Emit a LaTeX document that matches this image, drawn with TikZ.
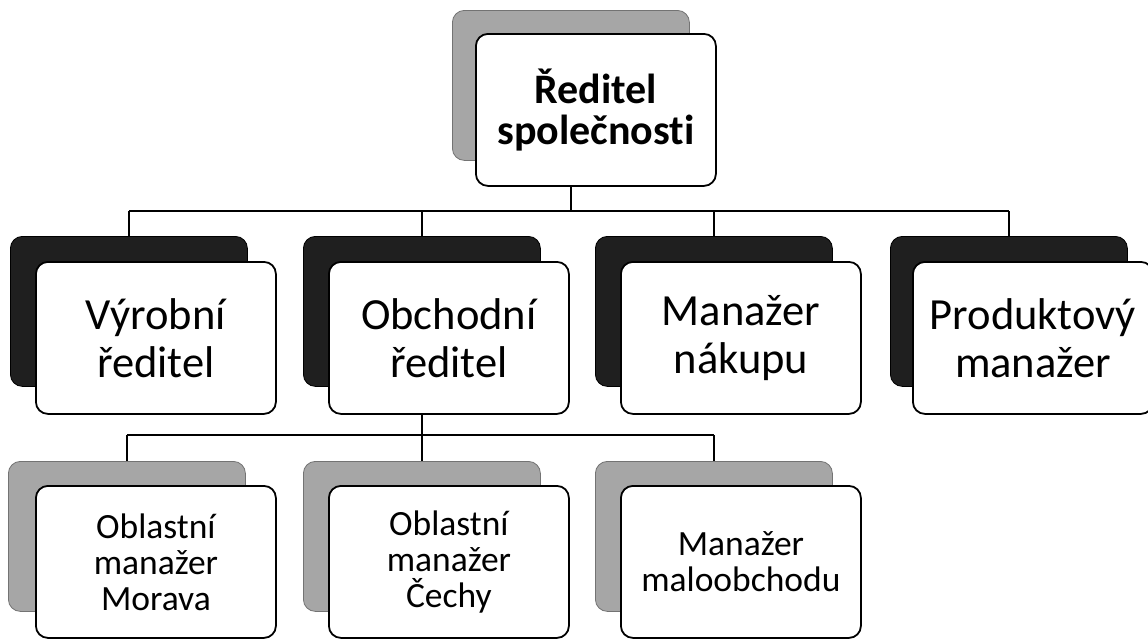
\documentclass[tikz,border=0pt]{standalone}
\usepackage{fontspec}
\setmainfont{Carlito}[RawFeature={-liga}]
\begin{document}
\begin{tikzpicture}[x=1pt,y=-1pt,
  front/.style={draw=black, line width=1.8pt, rounded corners=12pt, fill=white, anchor=north west,
    minimum width=240pt, minimum height=152pt, inner sep=0pt, align=center},
  shlight/.style={fill=black!35, draw=black!55, line width=0.8pt, rounded corners=12pt, anchor=north west,
    minimum width=237pt, minimum height=150pt, inner sep=0pt},
  shdark/.style={fill=black!88, draw=black, line width=0.8pt, rounded corners=12pt, anchor=north west,
    minimum width=237pt, minimum height=150pt, inner sep=0pt},
  topfont/.style={font=\fontsize{42}{41}\selectfont\bfseries},
  lonefont/.style={font=\fontsize{44.5}{48}\selectfont},
  ltwofont/.style={font=\fontsize{35.5}{36}\selectfont},
  conn/.style={draw=black, line width=2.2pt}]
\useasboundingbox (0,0) rectangle (1148,638);
\begin{scope}
\clip (0,0) rectangle (1148,638);
% top
\node[shlight] (s0) at (452,10) {};
\node[front,topfont] (b0) at (475,33) {Ředitel\\společnosti};
% level 1
\node[shdark] (s1) at (10,236) {};
\node[front,lonefont] (b1) at (35,261) {Výrobní\\ředitel};
\node[shdark] (s2) at (303,236) {};
\node[front,lonefont] (b2) at (328,261) {Obchodní\\ředitel};
\node[shdark] (s3) at (595,236) {};
\node[front,lonefont] (b3) at (620,261) {Manažer\\nákupu};
\node[shdark] (s4) at (890,236) {};
\node[front,lonefont] (b4) at (912,261) {Produktový\\manažer};
% level 2
\node[shlight] (s5) at (8,461) {};
\node[front,ltwofont] (b5) at (35,485) {Oblastní\\manažer\\Morava};
\node[shlight] (s6) at (303,461) {};
\node[front,ltwofont] (b6) at (328,485) {Oblastní\\manažer\\Čechy};
\node[shlight] (s7) at (595,461) {};
\node[front,ltwofont] (b7) at (620,485) {Manažer\\maloobchodu};
% connectors
\coordinate (h1) at (0,211);
\coordinate (h2) at (0,435);
\draw[conn] (b0.south -| s0.south) -- (s0.south |- h1);
\draw[conn] (s1.north |- h1) -- (s4.north |- h1);
\draw[conn] (s1.north |- h1) -- (s1.north);
\draw[conn] (s2.north |- h1) -- (s2.north);
\draw[conn] (s3.north |- h1) -- (s3.north);
\draw[conn] (s4.north |- h1) -- (s4.north);
\draw[conn] (b2.south -| s2.north) -- (s2.north |- h2);
\draw[conn] (s5.north |- h2) -- (s7.north |- h2);
\draw[conn] (s5.north |- h2) -- (s5.north);
\draw[conn] (s6.north |- h2) -- (s6.north);
\draw[conn] (s7.north |- h2) -- (s7.north);
\end{scope}
\end{tikzpicture}
\end{document}
